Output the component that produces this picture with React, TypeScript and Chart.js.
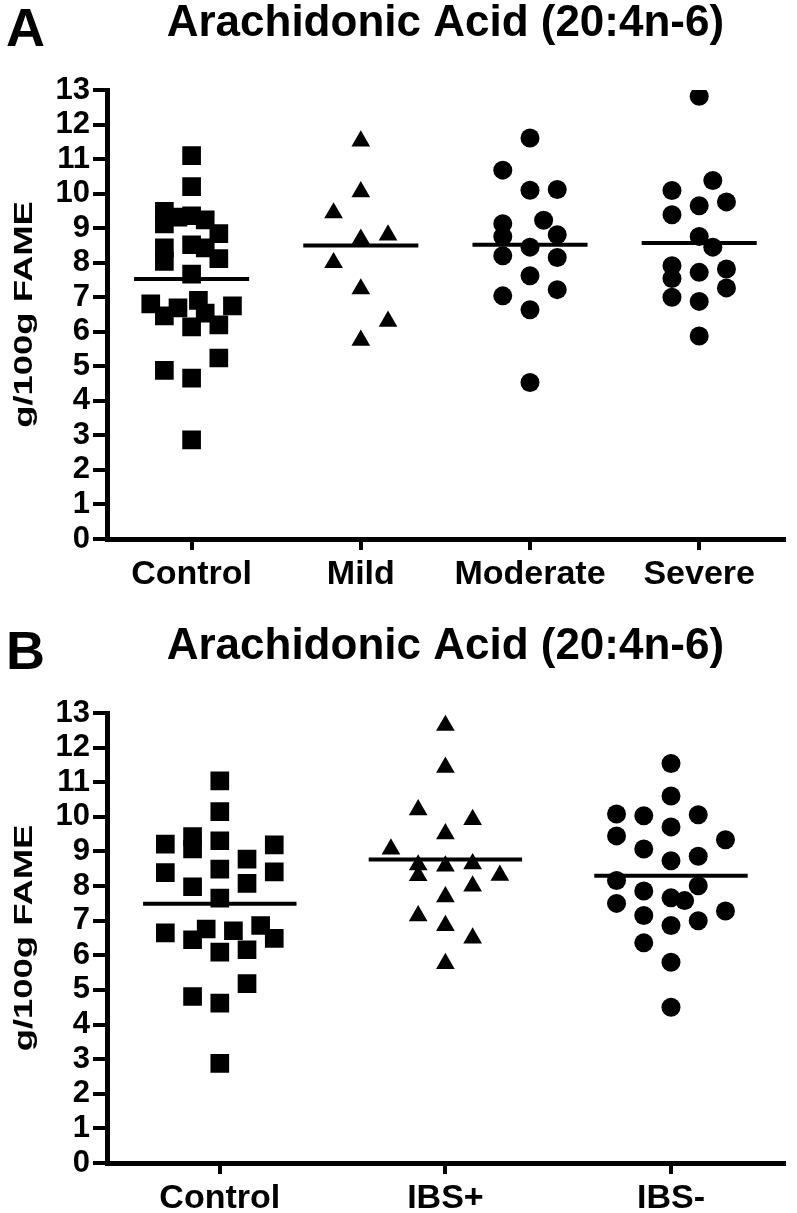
import React, { useEffect, useRef } from 'react';
import { Chart, registerables } from 'chart.js';

Chart.register(...registerables);

const FONT = "'Liberation Sans', Arial, Helvetica, sans-serif";

// ---------------- data ----------------
const title = 'Arachidonic Acid (20:4n-6)';
const yLabel = 'g/100g FAME';
const yTicks = [0, 1, 2, 3, 4, 5, 6, 7, 8, 9, 10, 11, 12, 13];

// Panel A
const categoriesA = ['Control', 'Mild', 'Moderate', 'Severe'];
const controlA = [11.1, 10.2, 9.49, 9.12, 9.32, 9.36, 9.24, 8.84, 8.43, 8.04, 8.52, 8.43, 8.12, 7.67, 6.81, 6.46, 6.69, 6.91, 6.54, 6.75, 6.14, 6.2, 5.24, 4.88, 4.66, 2.87];
const controlAColumn = [0, 0, -2, -2, -1, 0, 1, 2, -2, -2, 0, 1, 2, 0, -3, -2, -1, 0.5, 1, 3, 0, 2, 2, -2, 0, 0];
const mildA = [11.52, 10.05, 9.44, 8.68, 8.8, 8.0, 7.24, 6.3, 5.75];
const mildAColumn = [0, 0, -2, 0, 2, -2, 0, 2, 0];
const moderateA = [11.61, 10.68, 10.1, 10.12, 9.13, 9.23, 8.76, 8.81, 8.45, 8.2, 8.15, 7.62, 7.04, 7.22, 6.64, 4.53];
const moderateAColumn = [0, -2, 0, 2, -2, 1, -2, 2, 0, -2, 2, 0, -2, 2, 0, 0];
const severeA = [12.82, 10.38, 10.09, 9.65, 9.76, 9.39, 8.76, 8.45, 7.91, 7.54, 7.72, 7.82, 7.27, 7.0, 6.88, 5.88];
const severeAColumn = [0, 1, -2, 0, 2, -2, 0, 1, -2, -2, 0, 2, 2, -2, 0, 0];
const meansA = [7.53, 8.5, 8.52, 8.57];

// Panel B
const categoriesB = ['Control', 'IBS+', 'IBS-'];
const controlB = [11.04, 10.15, 9.21, 9.43, 9.07, 9.31, 8.78, 9.19, 8.39, 7.98, 8.49, 8.08, 8.41, 7.65, 6.65, 6.45, 6.76, 6.71, 6.86, 6.49, 6.09, 6.16, 5.18, 4.81, 4.62, 2.88];
const controlBColumn = [0, 0, -4, -2, -2, 0, 2, 4, -4, -2, 0, 2, 4, 0, -4, -2, -1, 1, 3, 4, 0, 2, 2, -2, 0, 0];
const ibsPlusB = [12.64, 11.43, 10.2, 9.92, 9.51, 9.07, 8.61, 8.58, 8.64, 8.3, 8.31, 8.0, 7.69, 7.14, 6.86, 6.5, 5.76];
const ibsPlusBColumn = [0, 0, -2, 2, 0, -4, -2, 0, 2, -2, 4, 2, 0, -2, 0, 2, 0];
const ibsMinusB = [11.54, 10.6, 10.08, 10.03, 10.06, 9.71, 9.45, 9.34, 9.07, 8.73, 8.86, 8.16, 8.01, 7.86, 7.66, 7.58, 7.5, 7.28, 7.15, 7.0, 6.86, 6.36, 5.8, 4.5];
const ibsMinusBColumn = [0, 0, -4, -2, 2, 0, -4, 4, -2, 0, 2, -4, 2, -2, 0, 1, -4, 4, -2, 2, 0, -2, 0, 0];
const meansB = [7.49, 8.77, 8.3];

// ---------------- styling ----------------
const COLUMN_PX = 13.7; // horizontal spacing of a scatter column, px
const MEAN_HALF = 0.34; // half width of mean bar, category units
const CANVAS_W = 797;

const SQUARE = { pointStyle: 'rect', radius: 13.2 };
const TRIANGLE = { pointStyle: 'triangle', radius: 10.8 };
const CIRCLE = { pointStyle: 'circle', radius: 9.5 };

type Group = { values: number[]; columns: number[]; marker: { pointStyle: string; radius: number } };

const panelText = {
  id: 'panelText',
  afterDraw(chart: any, _args: any, opts: any) {
    const { ctx, chartArea } = chart;
    ctx.save();
    ctx.fillStyle = '#000';
    ctx.font = `bold 54px ${FONT}`;
    ctx.textAlign = 'left';
    ctx.textBaseline = 'alphabetic';
    ctx.fillText(opts.letter, 6, 46);
    const cy = (chartArea.top + chartArea.bottom) / 2;
    ctx.translate(25, cy);
    ctx.rotate(-Math.PI / 2);
    ctx.scale(1.4, 1);
    ctx.font = `bold 26px ${FONT}`;
    ctx.textAlign = 'center';
    ctx.textBaseline = 'middle';
    ctx.fillText(opts.label, 0, 0);
    ctx.restore();
  },
};

function buildConfig(letter: string, categories: string[], groups: Group[], means: number[], height: number) {
  const plotLeft = 107;
  const plotRight = 788;
  const step = COLUMN_PX / ((plotRight - plotLeft) / categories.length);
  const datasets: any[] = [];
  groups.forEach((g, gi) => {
    datasets.push({
      label: categories[gi],
      data: g.values.map((v, i) => ({ x: gi + 1 + g.columns[i] * step, y: v })),
      pointStyle: g.marker.pointStyle,
      pointRadius: g.marker.radius,
      pointHoverRadius: g.marker.radius,
      pointBackgroundColor: '#000',
      pointBorderWidth: 0,
      showLine: false,
    });
  });
  means.forEach((m, gi) => {
    datasets.push({
      label: 'mean ' + categories[gi],
      data: [
        { x: gi + 1 - MEAN_HALF, y: m },
        { x: gi + 1 + MEAN_HALF, y: m },
      ],
      showLine: true,
      borderColor: '#000',
      borderWidth: 4,
      pointRadius: 0,
      pointHoverRadius: 0,
      borderCapStyle: 'butt',
    });
  });
  const xAxisHeight = height - 539 - (letter === 'B' ? 1 : 0);
  return {
    type: 'scatter',
    data: { datasets },
    plugins: [panelText],
    options: {
      responsive: false,
      animation: false,
      events: [],
      layout: { padding: { left: 0, right: CANVAS_W - plotRight, top: 0, bottom: 0 } },
      plugins: {
        legend: { display: false },
        tooltip: { enabled: false },
        title: {
          display: true,
          text: title,
          fullSize: false,
          align: 'center',
          color: '#000',
          font: { family: FONT, size: 44, weight: 'bold', lineHeight: 1 },
          padding: { top: 2, bottom: 44 },
        },
        panelText: { letter, label: yLabel },
      },
      scales: {
        x: {
          type: 'linear',
          min: 0.5,
          max: categories.length + 0.5,
          afterBuildTicks: (s: any) => {
            s.ticks = categories.map((_, i) => ({ value: i + 1 }));
          },
          afterFit: (s: any) => {
            s.height = xAxisHeight;
          },
          ticks: {
            autoSkip: false,
            maxRotation: 0,
            padding: 8,
            color: '#000',
            font: { family: FONT, size: 34, weight: 'bold', lineHeight: 1 },
            callback: (v: number) => categories[Math.round(v) - 1] ?? '',
          },
          grid: { drawOnChartArea: false, drawTicks: true, tickLength: 11, lineWidth: 4, color: '#000' },
          border: { display: true, width: 5, color: '#000' },
        },
        y: {
          type: 'linear',
          min: 0,
          max: 13,
          afterBuildTicks: (s: any) => {
            s.ticks = yTicks.map((v) => ({ value: v }));
          },
          afterFit: (s: any) => {
            s.width = plotLeft;
          },
          ticks: {
            padding: 3,
            color: '#000',
            font: { family: FONT, size: 31, weight: 'bold', lineHeight: 1 },
          },
          grid: { drawOnChartArea: false, drawTicks: true, tickLength: 14, lineWidth: 4, color: '#000' },
          border: { display: true, width: 5, color: '#000' },
        },
      },
    },
  };
}

function Panel({ height, makeConfig }: { height: number; makeConfig: () => any }) {
  const ref = useRef<HTMLCanvasElement | null>(null);
  useEffect(() => {
    if (!ref.current) return;
    const chart = new Chart(ref.current, makeConfig());
    return () => chart.destroy();
  }, []);
  return (
    <div style={{ width: CANVAS_W, height, position: 'relative' }}>
      <canvas ref={ref} width={CANVAS_W} height={height} style={{ display: 'block', width: CANVAS_W, height }} />
    </div>
  );
}

export default function App() {
  useEffect(() => {
    document.body.style.margin = '0';
    document.body.style.background = '#fff';
  }, []);
  const groupsA: Group[] = [
    { values: controlA, columns: controlAColumn, marker: SQUARE },
    { values: mildA, columns: mildAColumn, marker: TRIANGLE },
    { values: moderateA, columns: moderateAColumn, marker: CIRCLE },
    { values: severeA, columns: severeAColumn, marker: CIRCLE },
  ];
  const groupsB: Group[] = [
    { values: controlB, columns: controlBColumn, marker: SQUARE },
    { values: ibsPlusB, columns: ibsPlusBColumn, marker: TRIANGLE },
    { values: ibsMinusB, columns: ibsMinusBColumn, marker: CIRCLE },
  ];
  return (
    <div style={{ width: CANVAS_W, background: '#fff' }}>
      <Panel height={623} makeConfig={() => buildConfig('A', categoriesA, groupsA, meansA, 623)} />
      <Panel height={590} makeConfig={() => buildConfig('B', categoriesB, groupsB, meansB, 590)} />
    </div>
  );
}
